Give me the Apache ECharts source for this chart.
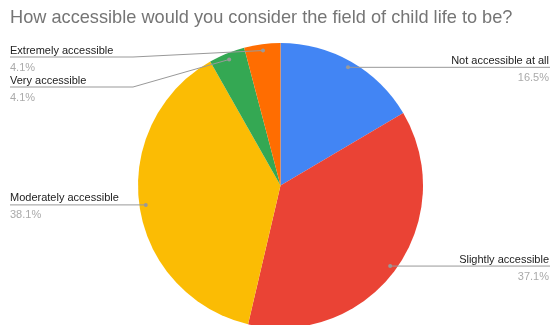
<!DOCTYPE html>
<html><head><meta charset="utf-8">
<script src="https://cdn.jsdelivr.net/npm/echarts@6/dist/echarts.min.js"></script>
<style>html,body{margin:0;padding:0;background:#fff}#c{width:551px;height:325px}</style>
</head><body><div id="c"></div>
<script>
const titleText = 'How accessible would you consider the field of child life to be?';
const categories = ['Not accessible at all', 'Slightly accessible', 'Moderately accessible', 'Very accessible', 'Extremely accessible'];
const values = [16.5, 37.1, 38.1, 4.1, 4.1];
const pctLabels = ['16.5%', '37.1%', '38.1%', '4.1%', '4.1%'];
const colors = ['#4285F4', '#EA4335', '#FBBC04', '#34A853', '#FF6D01'];

const CX = 280.5, CY = 185.5, R = 142.5;
const DOT_R = R * 0.955;
const total = values.reduce((a, b) => a + b, 0);

// dot positions & label line y's derived from the data
const info = [];
let cum = 0;
values.forEach((v, i) => {
  const mid = (cum + v / 2) / total * Math.PI * 2;
  cum += v;
  const dx = CX + DOT_R * Math.sin(mid), dy = CY - DOT_R * Math.cos(mid);
  info.push({ i, dx, dy, right: Math.sin(mid) >= 0, lineY: dy });
});
['left', 'right'].forEach(side => {
  const list = info.filter(o => (side === 'right') === o.right).sort((a, b) => a.dy - b.dy);
  let prev = 57 - 30;
  list.forEach(o => { o.lineY = Math.max(o.dy, prev + 30); prev = o.lineY; });
});
info.forEach(o => {
  o.endX = o.right ? 550 : 10;
  o.elbowX = o.right ? CX + 147.5 : CX - 147.5;
});

const chart = echarts.init(document.getElementById('c'), null, { renderer: 'canvas' });
const graphics = [];
info.forEach(o => {
  graphics.push({
    type: 'polyline', z: 100,
    shape: { points: [[o.dx, o.dy], [o.elbowX, o.lineY], [o.endX, o.lineY]] },
    style: { stroke: '#999', lineWidth: 1, fill: null }
  });
  graphics.push({
    type: 'circle', z: 101, shape: { cx: o.dx, cy: o.dy, r: 2 }, style: { fill: '#999' }
  });
});
chart.setOption({
  backgroundColor: '#fff',
  animation: false,
  title: {
    text: titleText, left: 5, top: 4,
    textStyle: { fontFamily: 'Liberation Sans, Arial, sans-serif', fontSize: 18.2, fontWeight: 'normal', color: '#757575' }
  },
  series: [{
    type: 'pie',
    center: [CX, CY],
    radius: R,
    startAngle: 90,
    clockwise: true,
    data: categories.map((n, i) => ({ name: n, value: values[i], itemStyle: { color: colors[i] } })),
    itemStyle: { borderWidth: 0 },
    label: {
      show: true,
      position: 'outside',
      overflow: 'none',
      formatter: p => '{n|' + p.name + '}\n{p|' + pctLabels[p.dataIndex] + '}',
      rich: {
        n: { fontFamily: 'Liberation Sans, Arial, sans-serif', fontSize: 11, color: '#222', lineHeight: 17 },
        p: { fontFamily: 'Liberation Sans, Arial, sans-serif', fontSize: 11, color: '#aaa', lineHeight: 17 }
      }
    },
    labelLine: { show: false },
    labelLayout: function (params) {
      const o = info[params.dataIndex];
      return {
        x: o.right ? 549 : 10,
        y: o.lineY + 2,
        align: o.right ? 'right' : 'left',
        verticalAlign: 'middle',
        width: 200
      };
    },
    emphasis: { disabled: true }
  }],
  graphic: graphics
});
</script></body></html>
